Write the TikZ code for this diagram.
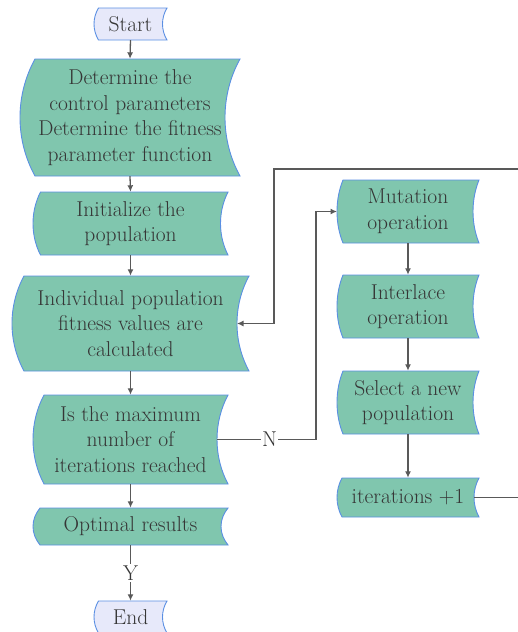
\documentclass[tikz,border=0pt]{standalone}
\usepackage{fontspec}
\usetikzlibrary{arrows.meta}

\definecolor{boxfill}{HTML}{80C6AE}
\definecolor{termfill}{HTML}{E7E9FA}
\definecolor{boxedge}{HTML}{5A8FE3}
\definecolor{linegray}{HTML}{595959}
\definecolor{textgray}{HTML}{363636}

\tikzset{
  boxtext/.style={align=center, text=textgray, inner sep=0pt,
    font=\rmfamily\fontsize{21.5}{25.5}\selectfont},
  procshape/.style={fill=boxfill, draw=boxedge, line width=0.9pt},
  termshape/.style={fill=termfill, draw=boxedge, line width=0.9pt},
  flow/.style={draw=linegray, line width=1.3pt,
    -{Latex[length=6.5pt,width=6pt]}},
  flowlabel/.style={fill=white, text=textgray, inner sep=1.5pt,
    font=\rmfamily\fontsize{21.5}{25.5}\selectfont},
}

% stored-data box: #1 name, #2/#3 centre, #4 width, #5 height,
% #6 arc depth, #7 shape style, #8 text
\newcommand\tapebox[8]{%
  \pgfmathsetmacro\tbL{#2-#4/2}%
  \pgfmathsetmacro\tbR{#2+#4/2}%
  \pgfmathsetmacro\tbT{#3-#5/2}%
  \pgfmathsetmacro\tbB{#3+#5/2}%
  \pgfmathsetmacro\tbK{4/3*#6}%
  \pgfmathsetmacro\tbA{0.31*#5}%
  \path[#7] (\tbL+#6,\tbT) -- (\tbR,\tbT)
    .. controls (\tbR-\tbK,\tbT+\tbA) and (\tbR-\tbK,\tbB-\tbA) .. (\tbR,\tbB)
    -- (\tbL+#6,\tbB)
    .. controls (\tbL+#6-\tbK,\tbB-\tbA) and (\tbL+#6-\tbK,\tbT+\tbA) .. cycle;
  \node[boxtext, minimum height=#5pt] (#1) at (#2,#3) {#8};
  \coordinate (#1-l) at (\tbL,#3);
  \coordinate (#1-r) at (\tbR-#6,#3);
}

\begin{document}
\begin{tikzpicture}[x=1pt, y=-1pt]
  \useasboundingbox (0,0) rectangle (518,632);
  \clip (0,0) rectangle (518,632);

  % main column
  \tapebox{start}{130.5}{24}{73}{32}{4.5}{termshape}{Start}
  \tapebox{params}{130}{117.5}{220}{117}{15}{procshape}
    {Determine the\\control parameters\\Determine the fitness\\parameter function}
  \tapebox{init}{130.5}{223.5}{195}{63}{7.5}{procshape}{Initialize the\\population}
  \tapebox{fitness}{130.5}{323.5}{237}{95}{12}{procshape}
    {Individual population\\fitness values are\\calculated}
  \tapebox{check}{130.5}{439.5}{195}{89}{11}{procshape}
    {Is the maximum\\number of\\iterations reached}
  \tapebox{optimal}{130.5}{526.5}{195}{37}{7}{procshape}{Optimal results}
  \tapebox{stop}{130.5}{617}{73}{32}{4.5}{termshape}{End}

  % loop column
  \tapebox{mutation}{408}{211.5}{142}{63}{6}{procshape}{Mutation\\operation}
  \tapebox{interlace}{408}{306.5}{142}{63}{6}{procshape}{Interlace\\operation}
  \tapebox{select}{408}{402.5}{142}{63}{6}{procshape}{Select a new\\population}
  \tapebox{iter}{408}{497.5}{142}{39}{5}{procshape}{iterations +1}

  \coordinate (nturn) at (316,0);
  \coordinate (loopright) at (530,169);
  \coordinate (loopleft) at (274,169);

  % main flow
  \draw[flow] (start.south) -- (params.north);
  \draw[flow] (params.south) -- (init.north);
  \draw[flow] (init.south) -- (fitness.north);
  \draw[flow] (fitness.south) -- (check.north);
  \draw[flow] (check.south) -- (optimal.north);
  \draw[flow] (optimal.south) -- node[flowlabel] (ylab) {Y} (stop.north);

  % "no" branch into the loop
  \draw[flow] (check-r) -- node[flowlabel, pos=0.53] (nlab) {N}
    (check-r -| nturn) |- (mutation-l);

  % loop body
  \draw[flow] (mutation.south) -- (interlace.north);
  \draw[flow] (interlace.south) -- (select.north);
  \draw[flow] (select.south) -- (iter.north);

  % back to fitness evaluation
  \draw[flow] (iter-r) -| (loopright) -- (loopleft) |- (fitness-r);
\end{tikzpicture}
\end{document}
